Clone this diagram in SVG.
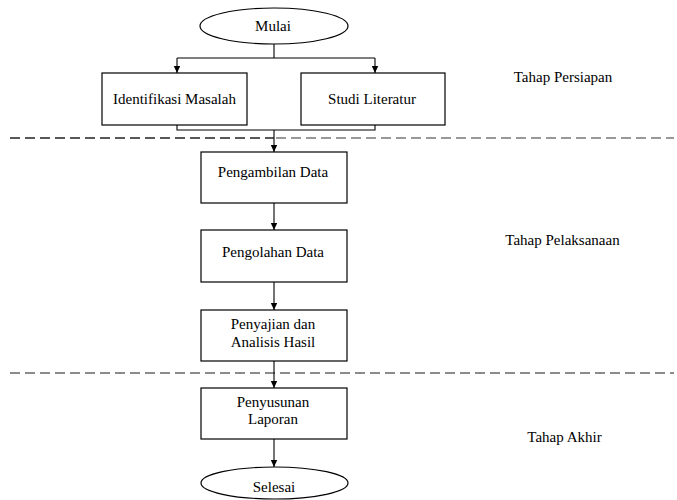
<svg xmlns="http://www.w3.org/2000/svg" width="677" height="500" viewBox="0 0 677 500">
<defs>
<marker id="arr" markerWidth="8" markerHeight="8" refX="7" refY="4" orient="auto" markerUnits="userSpaceOnUse">
<path d="M0,0.8 L7,4 L0,7.2 Z" fill="#000"/>
</marker>
</defs>
<style>
.box{fill:#fff;stroke:#000;stroke-width:1.2}
.t{font-family:'Liberation Serif','Times New Roman',serif;font-size:15px;fill:#000;text-anchor:middle}
.c{fill:none;stroke:#000;stroke-width:1.1}
.d{fill:none;stroke-width:1.6;stroke-dasharray:10 5}
</style>
<rect width="677" height="500" fill="#fff"/>
<g id="phase-lines">
<line class="d" x1="10" y1="138" x2="274" y2="138" stroke="#222"/>
<line class="d" x1="276" y1="138" x2="674" y2="138" stroke="#777"/>
<line class="d" x1="10" y1="373" x2="674" y2="373" stroke="#666"/>
</g>
<g id="connectors">
<path class="c" d="M274,44 V58 M177,58 H375"/>
<path class="c" d="M177,58 V73" marker-end="url(#arr)"/>
<path class="c" d="M375,58 V73" marker-end="url(#arr)"/>
<path class="c" d="M177,125 V130 H375 V125"/>
<path class="c" d="M274,130 V152" marker-end="url(#arr)"/>
<path class="c" d="M274,203 V230" marker-end="url(#arr)"/>
<path class="c" d="M274,282 V310" marker-end="url(#arr)"/>
<path class="c" d="M274,361 V388" marker-end="url(#arr)"/>
<path class="c" d="M274,439 V467" marker-end="url(#arr)"/>
</g>
<g id="mulai"><ellipse class="box" cx="274" cy="26" rx="74" ry="18"/><text class="t" x="273" y="31">Mulai</text></g>
<g id="identifikasi"><rect class="box" x="102" y="73" width="145" height="52"/><text class="t" x="174.5" y="104">Identifikasi Masalah</text></g>
<g id="studi"><rect class="box" x="301" y="73" width="144" height="52"/><text class="t" x="372" y="104">Studi Literatur</text></g>
<g id="pengambilan"><rect class="box" x="201" y="152" width="146" height="51"/><text class="t" x="273" y="177">Pengambilan Data</text></g>
<g id="pengolahan"><rect class="box" x="201" y="230" width="146" height="52"/><text class="t" x="273" y="257">Pengolahan Data</text></g>
<g id="penyajian"><rect class="box" x="201" y="310" width="146" height="51"/><text class="t" x="273" y="329">Penyajian dan</text><text class="t" x="273" y="347">Analisis Hasil</text></g>
<g id="penyusunan"><rect class="box" x="201" y="388" width="146" height="51"/><text class="t" x="273" y="407">Penyusunan</text><text class="t" x="273" y="424">Laporan</text></g>
<g id="selesai"><ellipse class="box" cx="274.5" cy="483" rx="73.5" ry="16"/><text class="t" x="274" y="492">Selesai</text></g>
<g id="labels">
<text class="t" x="563" y="82">Tahap Persiapan</text>
<text class="t" x="562.5" y="245">Tahap Pelaksanaan</text>
<text class="t" x="564.5" y="442">Tahap Akhir</text>
</g>
</svg>
